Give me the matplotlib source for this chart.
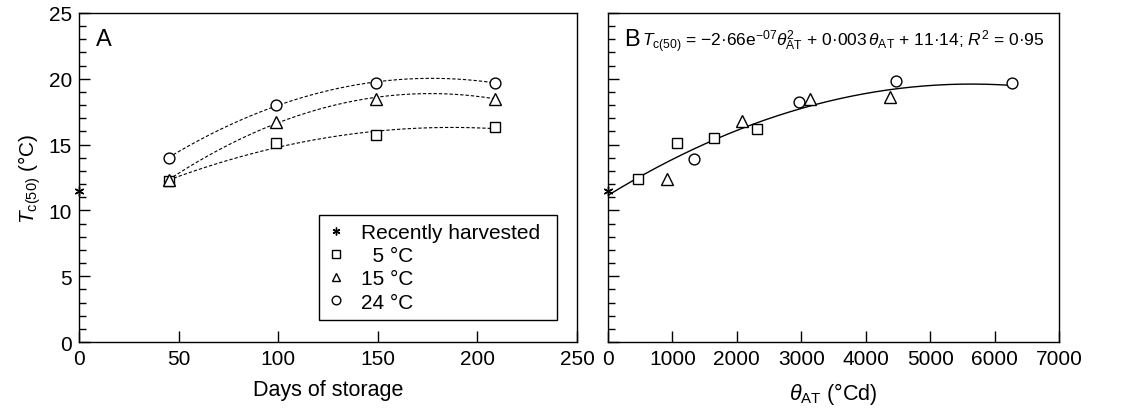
import matplotlib
matplotlib.use('Agg')
import matplotlib.pyplot as plt
import numpy as np
from matplotlib.ticker import MultipleLocator

plt.rcParams['font.family'] = ['Liberation Sans', 'DejaVu Sans']
plt.rcParams['mathtext.fontset'] = 'custom'
plt.rcParams['mathtext.rm'] = 'Liberation Sans'
plt.rcParams['mathtext.it'] = 'Liberation Sans:italic'

# Panel A: days of storage
fresh_day = [0]
fresh_tc = [11.5]
days = [45, 99, 149, 209]
tc_5 = [12.2, 15.1, 15.7, 16.3]
tc_15 = [12.3, 16.7, 18.5, 18.5]
tc_24 = [14.0, 18.0, 19.7, 19.7]

# Panel B: thermal time
fresh_theta = [0]
theta_5 = [470, 1075, 1650, 2310]
tcb_5 = [12.4, 15.1, 15.5, 16.2]
theta_15 = [920, 2085, 3135, 4380]
tcb_15 = [12.4, 16.8, 18.5, 18.6]
theta_24 = [1340, 2960, 4470, 6270]
tcb_24 = [13.9, 18.2, 19.8, 19.7]

# fitted model in panel B
coef_b = [-2.66e-07, 0.003, 11.14]

fig = plt.figure(figsize=(11.37, 4.10), dpi=100)
ax1 = fig.add_axes([0.0695, 0.1634, 0.438, 0.8025])
ax2 = fig.add_axes([0.5347, 0.1634, 0.3967, 0.8025])

mk = dict(mfc='white', mec='black', mew=1.0, ls='none', color='black', zorder=3)
star = (6, 2, 0)
ms_sq, ms_tri, ms_circ, ms_star = 6.8, 8, 7.8, 7

# A
for xs, ys in [(days, tc_5), (days, tc_15), (days, tc_24)]:
    c = np.polyfit(xs, ys, 2)
    xx = np.linspace(xs[0], xs[-1], 200)
    ax1.plot(xx, np.polyval(c, xx), color='black', lw=0.8, ls=(0, (3, 1.8)), zorder=2)
h0, = ax1.plot(fresh_day, fresh_tc, marker=star, ms=ms_star, mec='black', mew=1.0, ls='none', clip_on=False, zorder=4)
h1, = ax1.plot(days, tc_5, marker='s', ms=ms_sq, **mk)
h2, = ax1.plot(days, tc_15, marker='^', ms=ms_tri, **mk)
h3, = ax1.plot(days, tc_24, marker='o', ms=ms_circ, **mk)

leg = ax1.legend([h0, h1, h2, h3], ['Recently harvested', '  5 °C', '15 °C', '24 °C'],
                 loc='lower left', bbox_to_anchor=(0.482, 0.067, 0.478, 0.32), mode='expand',
                 borderaxespad=0, fontsize=15, markerscale=0.8, handlelength=0.8,
                 handletextpad=0.8, labelspacing=0.2, borderpad=0.4,
                 fancybox=False, framealpha=1)
leg.get_frame().set_edgecolor('black')
leg.get_frame().set_linewidth(1.0)

ax1.set_xlim(0, 250)
ax1.set_ylim(0, 25)
ax1.xaxis.set_major_locator(MultipleLocator(50))
ax1.yaxis.set_major_locator(MultipleLocator(5))
ax1.yaxis.set_minor_locator(MultipleLocator(1))
ax1.set_xlabel('Days of storage', fontsize=15.5, labelpad=8)
ax1.set_ylabel(r'$T_{\mathrm{c(50)}}$ (°C)', fontsize=15, labelpad=4)
ax1.text(0.035, 0.955, 'A', transform=ax1.transAxes, fontsize=17, va='top', ha='left')

# B
tt = np.linspace(0, 6270, 300)
ax2.plot(tt, np.polyval(coef_b, tt), color='black', lw=1.0, zorder=2)
ax2.plot(fresh_theta, fresh_tc, marker=star, ms=ms_star, mec='black', mew=1.0, ls='none', clip_on=False, zorder=4)
ax2.plot(theta_5, tcb_5, marker='s', ms=ms_sq, **mk)
ax2.plot(theta_15, tcb_15, marker='^', ms=ms_tri, **mk)
ax2.plot(theta_24, tcb_24, marker='o', ms=ms_circ, **mk)

ax2.set_xlim(0, 7000)
ax2.set_ylim(0, 25)
ax2.xaxis.set_major_locator(MultipleLocator(1000))
ax2.yaxis.set_major_locator(MultipleLocator(5))
ax2.yaxis.set_minor_locator(MultipleLocator(1))
ax2.set_yticklabels([])
ax2.set_xlabel(r'$\theta_{\mathrm{AT}}$ (°Cd)', fontsize=15.5, labelpad=9)
ax2.text(0.035, 0.955, 'B', transform=ax2.transAxes, fontsize=17, va='top', ha='left')
eq = (r'$T_{\mathrm{c(50)}}$ = −2·66e$^{−07}\theta^{2}_{\mathrm{AT}}$'
      r' + 0·003$\,\theta_{\mathrm{AT}}$ + 11·14; $R^2$ = 0·95')
ax2.text(0.967, 0.955, eq, transform=ax2.transAxes, fontsize=12.5, va='top', ha='right')

for ax in (ax1, ax2):
    ax.tick_params(which='both', direction='in', top=False, right=False, labelsize=15, pad=5)
    ax.tick_params(which='major', length=8, width=1)
    ax.tick_params(which='minor', length=5, width=1)
    for sp in ax.spines.values():
        sp.set_linewidth(1.0)

fig.savefig('out.png', dpi=100)
